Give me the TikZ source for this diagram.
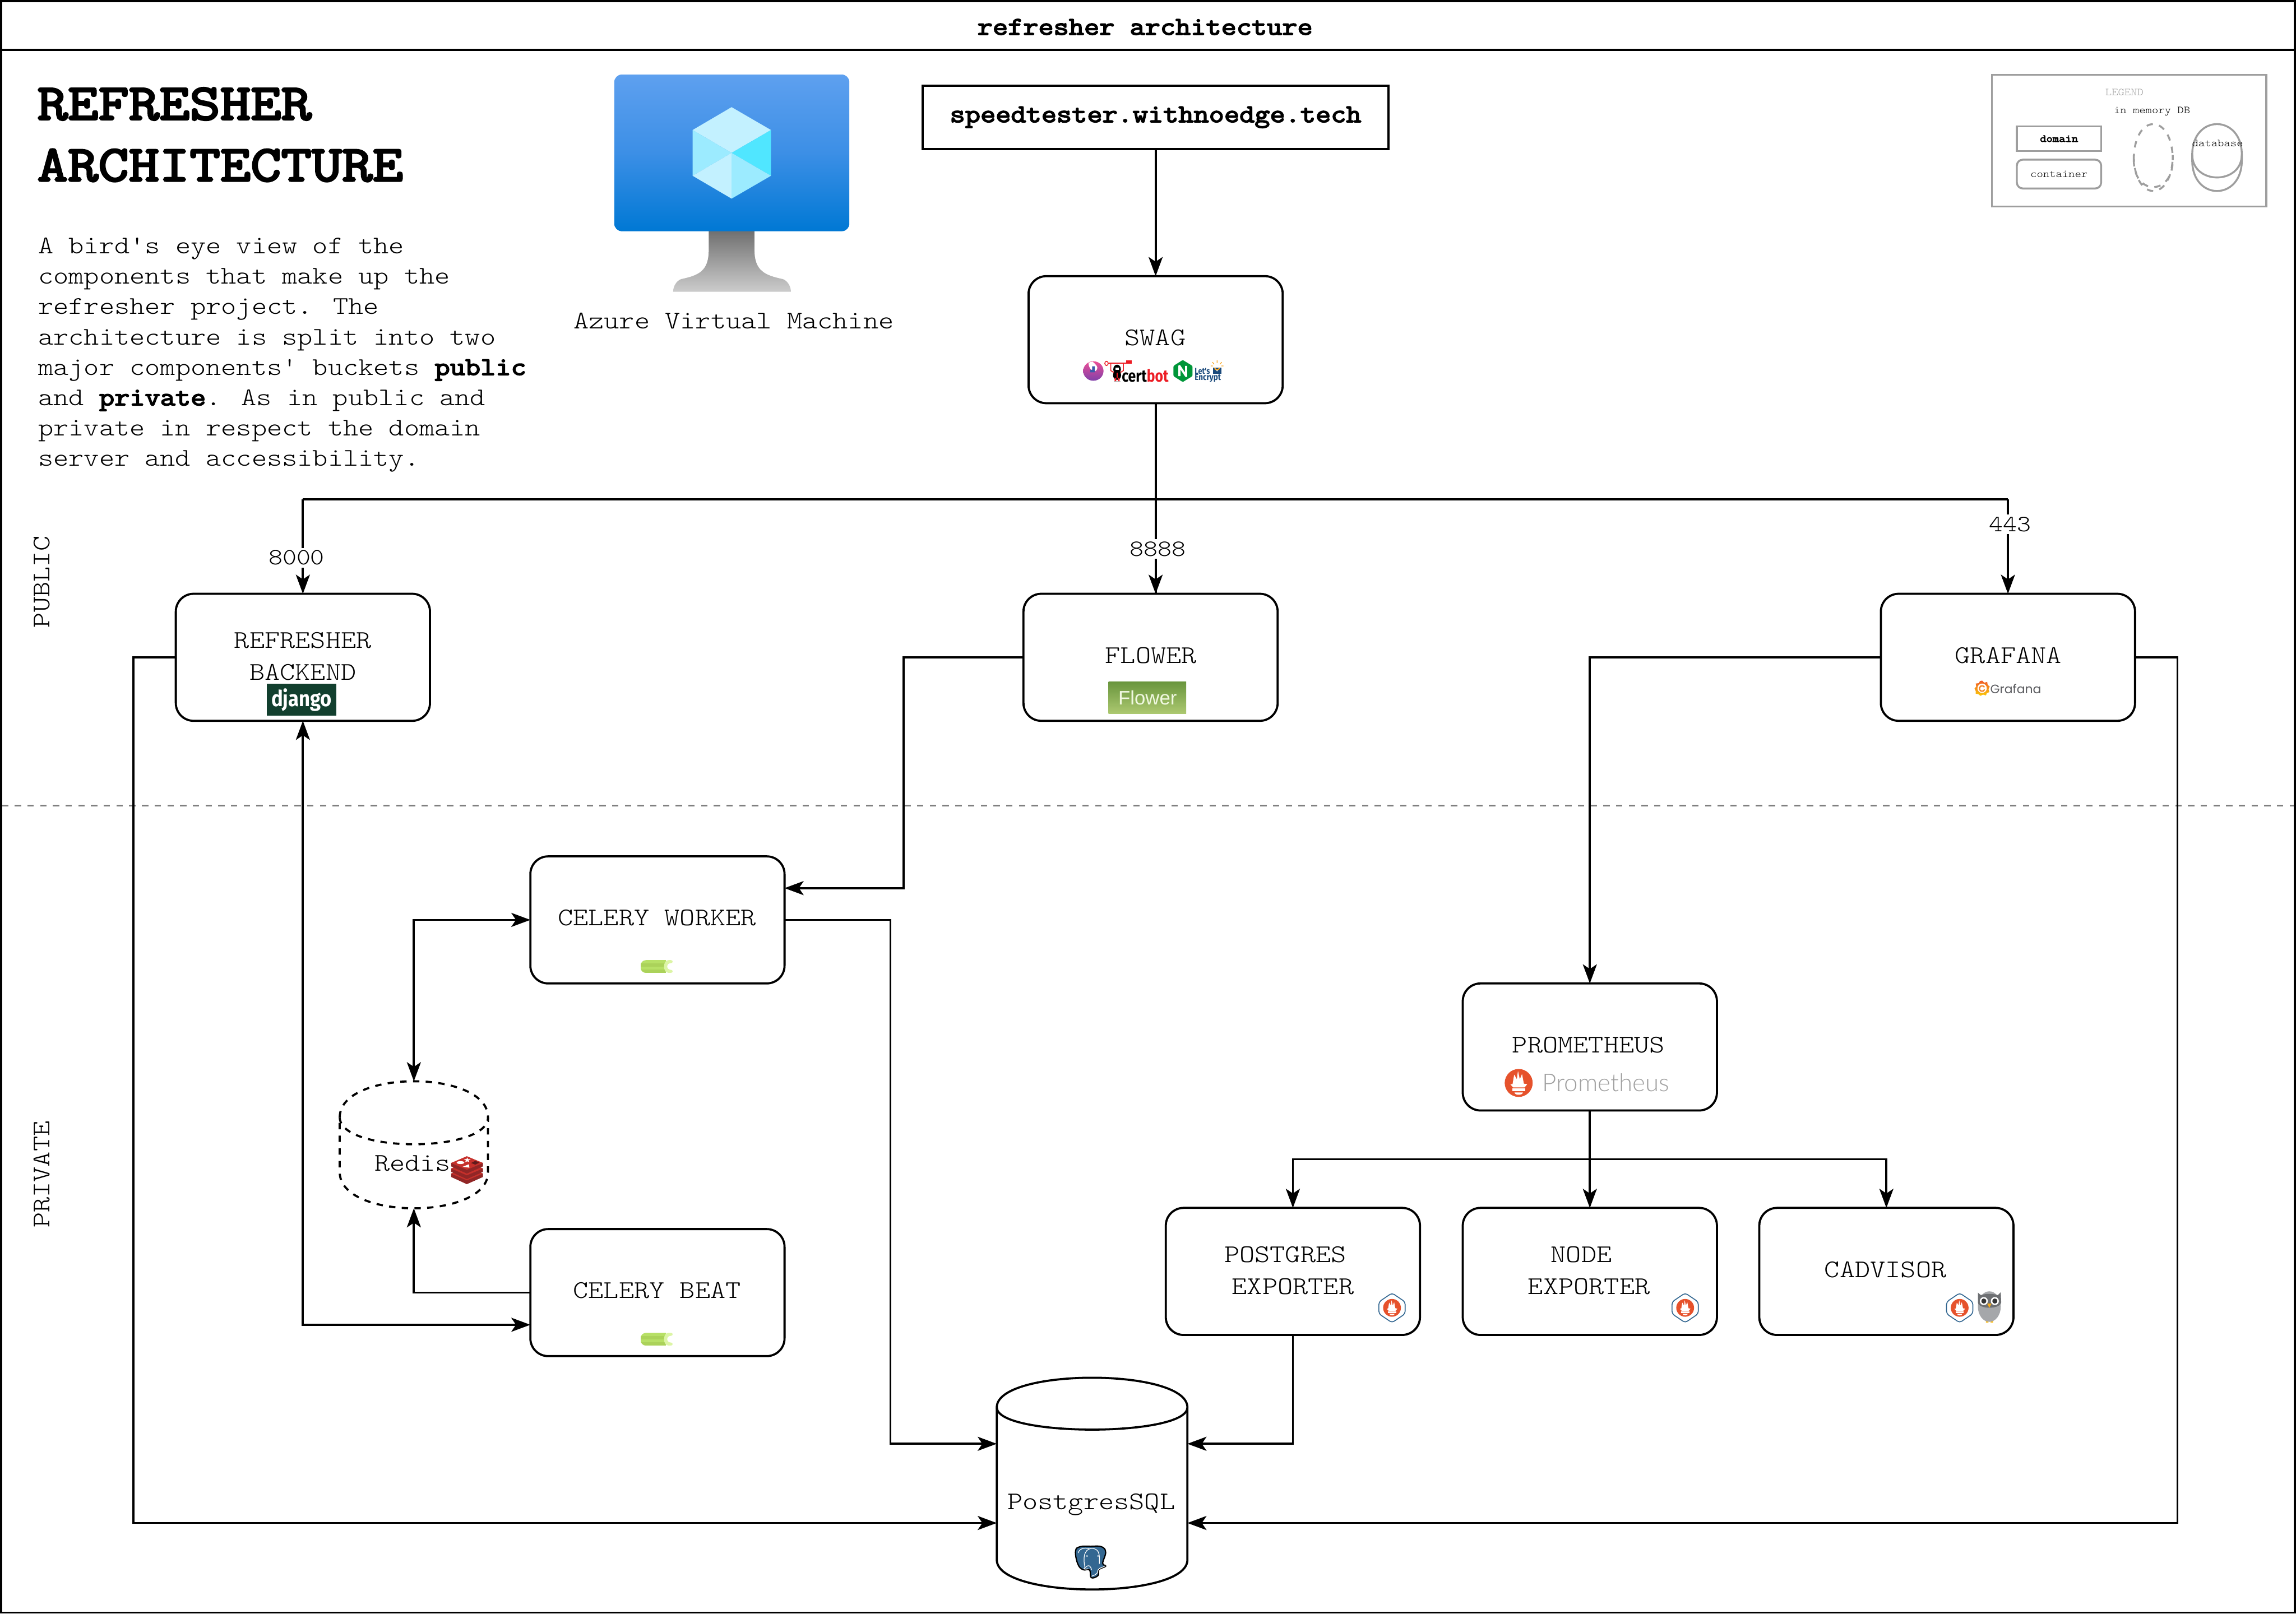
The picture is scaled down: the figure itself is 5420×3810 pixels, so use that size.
\documentclass[tikz,border=0pt]{standalone}
\usepackage{fontspec}
\usetikzlibrary{arrows.meta,calc,shapes.geometric}
\newfontfamily\monof[FakeStretch=1.143,BoldFont={Latin Modern Mono},BoldFeatures={FakeBold=4,FakeStretch=1.164}]{Latin Modern Mono Light}
\newfontfamily\logof[FakeStretch=0.88]{Fira Sans}
\newfontfamily\logon[FakeStretch=0.82]{Fira Sans}
\newfontfamily\lesans[FakeStretch=0.85]{Fira Sans}
\newfontfamily\grafont{Poppins}
\newfontfamily\promfont{Lato Light}
\newfontfamily\flowfont{Liberation Sans}
\definecolor{legendgray}{HTML}{9E9E9E}
\definecolor{promorange}{HTML}{E6522C}
\definecolor{redislight}{HTML}{C6302B}
\definecolor{redisdark}{HTML}{912626}
\definecolor{celerya}{HTML}{B7E066}
\definecolor{celeryb}{HTML}{ABD25A}
\definecolor{celeryc}{HTML}{DCF5A5}
\definecolor{pgblue}{HTML}{336791}
\definecolor{leblue}{HTML}{1B4A7C}
\definecolor{certred}{HTML}{ED1C24}
\tikzset{
  x=1pt,y=-1pt,
  >={Stealth[length=45pt,width=33pt,inset=11pt]},
  base line/.style={line width=5pt,line join=miter},
  container/.style={draw,base line,rectangle,rounded corners=42pt,minimum width=600pt,minimum height=300pt,inner sep=0pt,outer sep=0pt,fill=white},
  domainbox/.style={draw,base line,rectangle,minimum width=1100pt,minimum height=150pt,inner sep=0pt,outer sep=0pt,fill=white},
  dbframe/.style={rectangle,inner sep=0pt,outer sep=0pt},
  conn/.style={base line,->},
  conn2/.style={base line,<->},
  txt/.style={inner sep=0pt,outer sep=0pt,align=center,font=\monof\fontsize{60}{72}\selectfont,text height=37pt,text depth=0pt},
  txttwo/.style={txt,font=\monof\fontsize{60}{75}\selectfont},
  port/.style={inner sep=6pt,outer sep=0pt,fill=white,font=\monof\fontsize{55}{66}\selectfont},
  legtxt/.style={inner sep=0pt,outer sep=0pt,font=\monof\fontsize{25}{30}\selectfont},
  legline/.style={draw=legendgray,line width=4.5pt},
}
% drawio style cylinder: x0,y0,x1,y1,dy,style
\newcommand{\cyl}[6]{%
  \draw[#6] ({#1},{#2+#5}) .. controls ({#1},{#2-#5/3}) and ({#3},{#2-#5/3}) .. ({#3},{#2+#5})
    -- ({#3},{#4-#5}) .. controls ({#3},{#4+#5/3}) and ({#1},{#4+#5/3}) .. ({#1},{#4-#5}) -- cycle;
  \draw[#6] ({#1},{#2+#5}) .. controls ({#1},{#2+2*#5}) and ({#3},{#2+2*#5}) .. ({#3},{#2+#5});
}
% prometheus torch inside a circle of radius #3
\newcommand{\promlogo}[3]{%
  \begin{scope}[shift={(#1,#2)},xscale=#3,yscale=#3]
    \fill[promorange] (0,0) circle (1);
    \fill[white,rounded corners=0.5pt] (-.6,.09) -- (-.44,.09) -- (-.32,-.6) -- (-.13,-.26) -- (-.05,-.86) -- (.08,-.26) -- (.24,-.64) -- (.37,.05) -- (.61,.09) -- (.42,.32) -- (-.4,.32) -- cycle;
    \fill[white] (-.47,.4) rectangle (.47,.58);
    \fill[white] (-.3,.68) -- (.3,.68) .. controls (.28,.9) and (-.28,.9) .. (-.3,.68) -- cycle;
  \end{scope}%
}
\newcommand{\exporter}[2]{%
  \draw[draw=pgblue,line width=2.2pt,fill=white,rounded corners=6pt] (#1,#2-35) -- (#1+31,#2-14) -- (#1+31,#2+14) -- (#1,#2+35) -- (#1-31,#2+14) -- (#1-31,#2-14) -- cycle;
  \promlogo{#1}{#2}{21}%
}
% celery logo: left, top
\newcommand{\celery}[2]{%
  \begin{scope}[shift={(#1,#2)}]
    \begin{scope}
      \clip[rounded corners=13pt] (0,0) rectangle (90,30);
      \fill[celerya] (0,0) rectangle (60,30);
      \fill[celeryb] (0,7.5) rectangle (60,15);
      \fill[celeryb] (0,22.5) rectangle (60,30);
    \end{scope}
    \fill[celeryc] (66,0) .. controls (52,0) and (52,30) .. (66,30) -- (72,30) .. controls (77,30) and (77,23) .. (72,23) .. controls (60,23) and (60,7) .. (72,7) .. controls (77,7) and (77,0) .. (72,0) -- cycle;
  \end{scope}%
}
\begin{document}
\begin{tikzpicture}
\useasboundingbox (0,0) rectangle (5420,3810);
\fill[white] (0,0) rectangle (5420,3810);
% frame
\node[draw,base line,rectangle,minimum width=5415pt,minimum height=3805pt,inner sep=0pt] (frame) at (2710,1905) {};
\coordinate (titleL) at (0,118);
\coordinate (titleR) at (5420,118);
\draw[base line] (titleL) -- (titleR);
\node[txt,font=\monof\bfseries\fontsize{60}{72}\selectfont,text height=30pt] (frametitle) at (2703,67) {refresher architecture};
% divider
\coordinate (divL) at (5,1902);
\coordinate (divR) at (5415,1902);
\draw[line width=5pt,draw={rgb,255:red,128;green,128;blue,128},dash pattern=on 15pt off 15pt] (divL) -- (divR);
% heading
\node[anchor=west,inner sep=0pt,align=left,font=\monof\bfseries\fontsize{120}{145}\selectfont] (head) at (88,318) {REFRESHER\\ARCHITECTURE};
\node[anchor=west,inner sep=0pt,align=left,font=\monof\fontsize{60}{71.6}\selectfont] (para) at (90,838) {A bird's eye view of the\\components that make up the\\refresher project. The\\architecture is split into two\\major components' buckets {\bfseries public}\\and {\bfseries private}. As in public and\\private in respect the domain\\server and accessibility.};
\node[txt,rotate=90] (public) at (98,1374) {PUBLIC};
\node[txt,rotate=90] (private) at (98,2773) {PRIVATE};
% azure vm
\begin{scope}
\path[top color={rgb,255:red,112;green,112;blue,112},bottom color={rgb,255:red,204;green,204;blue,204}]
 (1673,545) -- (1673,590) .. controls (1673,640) and (1650,650) .. (1608,659) .. controls (1597,663) and (1589,676) .. (1589,689) -- (1867,689) .. controls (1867,676) and (1859,663) .. (1848,659) .. controls (1806,650) and (1781,640) .. (1781,590) -- (1781,545) -- cycle;
\path[rounded corners=18pt,top color={rgb,255:red,94;green,160;blue,239},bottom color={rgb,255:red,0;green,120;blue,212},middle color={rgb,255:red,60;green,143;blue,230}] (1450,176) rectangle (2005,546);
\fill[fill={rgb,255:red,195;green,241;blue,255}] (1727,253) -- (1820,307) -- (1727,361) -- (1635,307) -- cycle;
\fill[fill={rgb,255:red,80;green,230;blue,255}] (1820,307) -- (1820,415) -- (1727,361) -- cycle;
\fill[fill={rgb,255:red,156;green,235;blue,255}] (1635,307) -- (1727,361) -- (1635,415) -- cycle;
\fill[fill={rgb,255:red,195;green,241;blue,255}] (1635,415) -- (1727,361) -- (1727,469) -- cycle;
\fill[fill={rgb,255:red,156;green,235;blue,255}] (1727,361) -- (1820,415) -- (1727,469) -- cycle;
\end{scope}
\node[txt] (azure) at (1732,757) {Azure Virtual Machine};
% containers
\node[domainbox,font=\monof\bfseries\fontsize{60}{72}\selectfont] (domain) at (2728,277) {speedtester.withnoedge.tech};
\node[container] (swag) at (2728,802) {};
\node[container] (backend) at (715,1552) {};
\node[container] (flower) at (2716,1552) {};
\node[container] (grafana) at (4740,1552) {};
\node[container] (worker) at (1552,2172) {};
\node[container] (beat) at (1552,3052) {};
\node[container] (prom) at (3753,2472) {};
\node[container] (pgexp) at (3052,3002) {};
\node[container] (nodeexp) at (3753,3002) {};
\node[container] (cadvisor) at (4453,3002) {};
\node[dbframe,minimum width=350pt,minimum height=300pt] (redis) at (977,2703) {};
\node[dbframe,minimum width=450pt,minimum height=500pt] (pg) at (2578,3503) {};
\cyl{802}{2553}{1152}{2853}{85}{base line,fill=white,dash pattern=on 15pt off 15pt}
\cyl{2353}{3253}{2803}{3753}{70}{base line,fill=white}
% connector waypoints
\coordinate (swagdown) at (2728,1402);
\coordinate (busL) at (715,1179);
\coordinate (busR) at (4740,1179);
\coordinate (busM) at (2728,1179);
\coordinate (backW) at (315,1552);
\coordinate (backS) at (315,3596);
\coordinate (pgW2) at (2353,3596);
\coordinate (pgW1) at (2353,3409);
\coordinate (pgE1) at (2803,3409);
\coordinate (pgE2) at (2803,3596);
\coordinate (grafE) at (5140,1552);
\coordinate (grafS) at (5140,3596);
\coordinate (workX) at (2102,2172);
\coordinate (workY) at (2102,3409);
\coordinate (flowX) at (2133,1552);
\coordinate (flowY) at (2133,2097);
\coordinate (workIn) at (1852,2097);
\coordinate (redisX) at (977,2172);
\coordinate (beatIn) at (1252,3128);
\coordinate (beatX) at (715,3128);
\coordinate (beatOut) at (977,3052);
\coordinate (promBus) at (3753,2737);
\coordinate (busPg) at (3052,2737);
\coordinate (busCad) at (4453,2737);
\coordinate (grafX) at (3753,1552);
% connectors
\draw[conn] (domain.south) -- (swag.north);
\draw[base line] (swag.south) -- (swagdown);
\draw[conn] (swagdown |- busM) -- (flower.north -| swagdown);
\draw[base line] (busL) -- (busR);
\draw[conn] (busL) -- (backend.north);
\draw[conn] (busR) -- (grafana.north);
\node[port] (p8000) at (700,1317) {8000};
\node[port] (p8888) at (2733,1296) {8888};
\node[port] (p443) at (4745,1238) {443};
\draw[conn] (backend.west) -- (backW) -- (backS) -- (pgW2);
\draw[conn2] (backend.south) -- (beatX) -- (beatIn);
\draw[conn] (flower.west) -- (flowX) -- (flowY) -- (workIn);
\draw[conn] (worker.east) -- (workX) -- (workY) -- (pgW1);
\draw[conn2] (worker.west) -- (redisX) -- (redis.north);
\draw[conn] (beat.west) -- (beatOut) -- (redis.south);
\draw[conn] (grafana.west) -- (grafX) -- (prom.north);
\draw[conn] (grafana.east) -- (grafE) -- (grafS) -- (pgE2);
\draw[conn] (pgexp.south) -- (pgexp.south |- pgE1) -- (pgE1);
\draw[conn] (prom.south) -- (nodeexp.north);
\draw[conn] (promBus) -- (busPg) -- (pgexp.north);
\draw[conn] (promBus) -- (busCad) -- (cadvisor.north);
% labels
\node[txt] (swagt) at (2727,797) {SWAG};
\node[txttwo] (l1) at (715,1587) {REFRESHER\\BACKEND};
\node[txt] (flowert) at (2717,1547) {FLOWER};
\node[txt] (graft) at (4741,1547) {GRAFANA};
\node[txt] (workt) at (1551,2167) {CELERY WORKER};
\node[txt] (beatt) at (1551,3047) {CELERY BEAT};
\node[txt] (promt) at (3750,2467) {PROMETHEUS};
\node[txttwo] (pgt) at (3052,3037) {POSTGRES\rule{36pt}{0pt}\\EXPORTER};
\node[txttwo] (nodet) at (3751,3037) {NODE\rule{36pt}{0pt}\\EXPORTER};
\node[txt] (cadt) at (4451,2998) {CADVISOR};
\node[txt,text height=42pt,text depth=0pt] (redist) at (974,2744) {Redis};
\node[txt,text height=37pt] (pgtt) at (2576,3546) {PostgresSQL};
% django logo
\node[fill={rgb,255:red,18;green,63;blue,46},minimum width=165pt,minimum height=75pt,inner sep=0pt,text=white,font=\logof\bfseries\fontsize{52}{52}\selectfont] (django) at (712,1652) {\raisebox{3pt}{django}};
% flower logo
\path[top color={rgb,255:red,106;green,150;blue,62},bottom color={rgb,255:red,172;green,200;blue,112}] (2617,1610) rectangle (2800,1685);
\node[text={rgb,255:red,240;green,248;blue,225},inner sep=0pt,font=\flowfont\fontsize{46}{46}\selectfont] (flowerlogo) at (2709,1647) {Flower};
% grafana logo
\begin{scope}[shift={(4679,1625)}]
\path[top color={rgb,255:red,240;green,90;blue,40},bottom color={rgb,255:red,251;green,202;blue,10}] (0,-18) -- (5,-13) -- (12,-15) -- (13,-8) -- (18,-4) -- (15,2) -- (17,9) -- (11,12) -- (9,17) -- (2,15) -- (-4,18) -- (-9,14) -- (-15,13) -- (-15,7) -- (-18,1) -- (-14,-4) -- (-15,-11) -- (-8,-12) -- (-5,-17) -- cycle;
\fill[white] (0,0) circle (11);
\draw[draw={rgb,255:red,243;green,130;blue,35},line width=3pt] (6,3) arc (20:330:6.5);
\end{scope}
\node[anchor=west,inner sep=0pt,text={rgb,255:red,90;green,91;blue,95},font=\grafont\fontsize{29}{29}\selectfont] (graflogo) at (4698,1627) {Grafana};
% celery logos
\celery{1512}{2267}
\celery{1512}{3147}
% prometheus logo
\promlogo{3585}{2557}{33}
\node[anchor=west,inner sep=0pt,text={rgb,255:red,160;green,160;blue,160},font=\promfont\fontsize{58}{58}\selectfont,text height=40pt,text depth=0pt] (promlogot) at (3641,2557) {Prometheus};
% exporters
\exporter{3286}{3088}
\exporter{3978}{3088}
\exporter{4626}{3088}
% owl
\begin{scope}
\fill[fill={rgb,255:red,253;green,190;blue,30}] (4688,3118) rectangle (4694,3123) (4699,3118) rectangle (4705,3123);
\fill[fill={rgb,255:red,165;green,167;blue,170}] (4696,3085) ellipse (27 and 36);
\fill[fill={rgb,255:red,110;green,112;blue,115}] (4669,3052) -- (4676,3058) .. controls (4686,3054) and (4706,3054) .. (4716,3058) -- (4723,3051) -- (4724,3075) .. controls (4722,3092) and (4670,3092) .. (4669,3075) -- cycle;
\fill[white] (4683,3072) circle (9.5) (4709,3072) circle (9.5);
\fill[black!80] (4683,3072) circle (6) (4709,3072) circle (6);
\fill[fill={rgb,255:red,245;green,170;blue,30}] (4691,3078) -- (4701,3078) -- (4696,3088) -- cycle;
\end{scope}
% redis logo
\begin{scope}
\foreach \o in {25,13,0}{
 \fill[redisdark] (1065,2746+\o) -- (1102,2731+\o) -- (1140,2746+\o) -- (1140,2754+\o) -- (1102,2771+\o) -- (1065,2754+\o) -- cycle;
 \fill[redislight] (1065,2746+\o) -- (1102,2730+\o) -- (1140,2746+\o) -- (1102,2762+\o) -- cycle;
}
\fill[white] (1087,2745) ellipse (9 and 3.5);
\fill[white] (1103,2733) -- (1105,2737) -- (1111,2737) -- (1106,2740) -- (1108,2744) -- (1103,2742) -- (1098,2744) -- (1100,2740) -- (1095,2737) -- (1101,2737) -- cycle;
\fill[white] (1092,2755) -- (1107,2749) -- (1108,2757) -- cycle;
\fill[fill={rgb,255:red,98;green,27;blue,28}] (1112,2746) -- (1122,2741) -- (1132,2745) -- (1122,2750) -- cycle;
\end{scope}
% postgres elephant
\begin{scope}[shift={(2575,3687)}]
\draw[fill=pgblue,draw=black,line width=3pt] plot[smooth cycle,tension=.7] coordinates {(-36,-25) (-25,-35) (0,-36) (25,-35) (35,-22) (28,4) (35,11) (19,19) (17,33) (1,38) (-3,20) (-19,19) (-31,5)};
\draw[white,line width=1.6pt] (-14,13) .. controls (-18,-5) and (-18,-30) .. (3,-31) .. controls (24,-30) and (20,-8) .. (20,6);
\draw[white,line width=1.6pt] (-3,-30) .. controls (-17,-34) and (-27,-30) .. (-30,-20);
\draw[white,line width=1.6pt] (2,20) .. controls (-1,10) and (-4,6) .. (-13,14) .. controls (-20,18) and (-14,19) .. (-6,17);
\draw[white,line width=1.6pt] (2,35) .. controls (3,32) and (16,34) .. (17,20) .. controls (20,14) and (30,14) .. (34,10);
\fill[white] (-9,-13) circle (2) (17,-13) circle (2);
\end{scope}
% swag logos
\begin{scope}
\path[top color={rgb,255:red,236;green,78;blue,150},middle color={rgb,255:red,222;green,74;blue,160},bottom color={rgb,255:red,128;green,64;blue,170}] (2581,876) ellipse (24 and 23);
\fill[white] (2570,856) .. controls (2569,866) and (2574,874) .. (2583,877) .. controls (2590,876) and (2592,868) .. (2589,864) .. controls (2586,860) and (2584,858) .. (2579,854) -- cycle;
\fill[fill={rgb,255:red,60;green,90;blue,170}] (2574,873) rectangle (2584,879) (2578,865) rectangle (2584,875);
% certbot
\draw[certred,line width=2pt] (2612,858) circle (4 and 5);
\draw[certred,line width=2.5pt] (2616,858) -- (2665,858);
\fill[certred] (2658,851) rectangle (2671,859);
\draw[certred,line width=2pt] (2622,858) -- (2622,875) -- (2630,880);
\draw[certred,line width=2pt] (2652,858) -- (2652,875) -- (2644,880);
\fill[black] (2637,872) ellipse (9 and 11);
\fill[black] (2637,886) ellipse (9.5 and 11);
\fill[white] (2633,868) rectangle (2641,873);
\fill[certred] (2636,880) rectangle (2638,892);
\draw[black,line width=2pt] (2629,902) -- (2645,902);
\fill[certred] (2631,892) rectangle (2635,900) (2639,892) rectangle (2643,900);
\end{scope}
\node[anchor=base west,inner sep=0pt,font=\logon\bfseries\fontsize{40}{40}\selectfont] (certbot) at (2648,902) {cert\textcolor{certred}{bot}};
% nginx
\begin{scope}
\fill[fill={rgb,255:red,0;green,150;blue,57},rounded corners=2pt] (2792,850) -- (2815,864) -- (2815,888) -- (2792,902) -- (2770,888) -- (2770,864) -- cycle;
\draw[white,line width=5pt,line join=round] (2784,888) -- (2784,864) -- (2800,888) -- (2800,864);
\end{scope}
\node[anchor=base west,inner sep=0pt,text=leblue,font=\lesans\bfseries\fontsize{20}{20}\selectfont] (lets) at (2820,883) {Let's};
\node[anchor=base west,inner sep=0pt,text=leblue,font=\lesans\bfseries\fontsize{21}{21}\selectfont] (encrypt) at (2820,898) {Encrypt};
\begin{scope}
\fill[leblue] (2863,868) rectangle (2883,883);
\draw[fill={rgb,255:red,249;green,168;blue,37},draw=none] (2866,868) arc (180:0:7) -- (2877,868) arc (0:180:4) -- cycle;
\fill[white] (2873,875) circle (1.8);
\draw[line width=1.6pt,draw={rgb,255:red,249;green,168;blue,37}] (2873,851) -- (2873,857) (2862,855) -- (2866,860) (2884,855) -- (2880,860) (2858,864) -- (2863,864) (2883,864) -- (2888,864);
\end{scope}
% legend
\node[legline,rectangle,inner sep=0pt,minimum width=648pt,minimum height=311pt] (legend) at (5026,332.5) {};
\node[legtxt,text=legendgray] (legendt) at (5015,218) {LEGEND};
\node[legtxt] (inmem) at (5080,263) {in memory DB};
\node[legline,rectangle,inner sep=0pt,minimum width=199pt,minimum height=59pt,font=\monof\bfseries\fontsize{25}{30}\selectfont,text=black] (ldomain) at (4860.5,327.5) {domain};
\node[legline,rectangle,rounded corners=14pt,inner sep=0pt,minimum width=199pt,minimum height=68pt,font=\monof\fontsize{25}{30}\selectfont,text=black] (lcontainer) at (4860.5,411) {container};
\cyl{5037}{293}{5129}{451}{85}{legendgray,line width=4.5pt,dash pattern=on 15pt off 15pt}
\cyl{5175}{293}{5292}{451}{72}{legendgray,line width=4.5pt}
\node[legtxt] (ldb) at (5235,338) {database};
\end{tikzpicture}
\end{document}
